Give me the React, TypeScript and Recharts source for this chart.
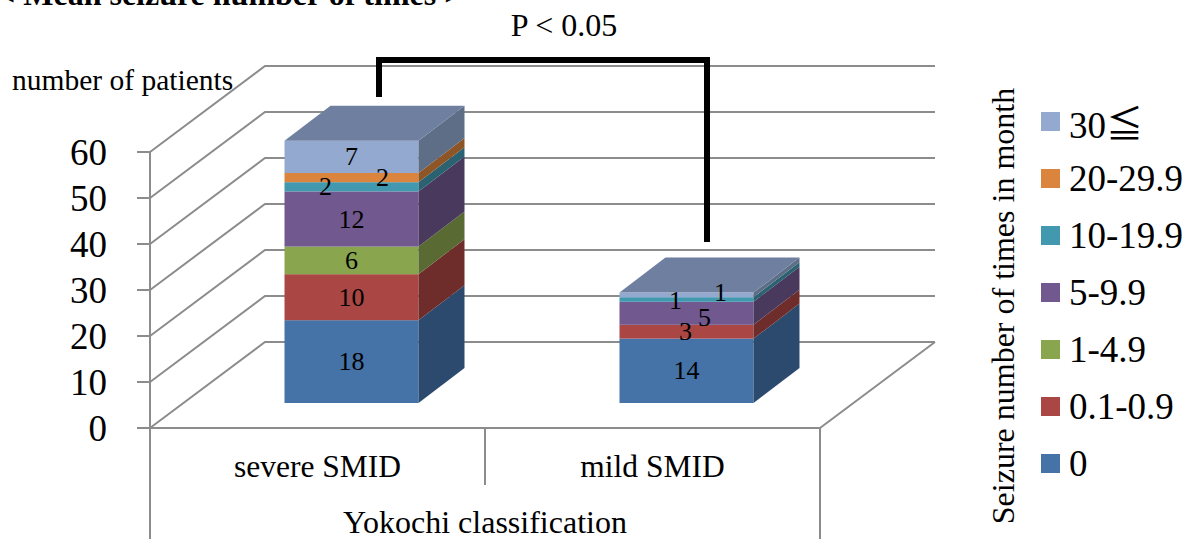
import { BarChart, Bar, XAxis, YAxis, CartesianGrid, Legend, LabelList, Label, Customized } from 'recharts';

const categories = ['severe SMID', 'mild SMID'];
const seriesNames = ['0', '0.1-0.9', '1-4.9', '5-9.9', '10-19.9', '20-29.9', '30≦'];
const seriesColors = ['#4572a7', '#aa4643', '#89a54e', '#71588f', '#4198af', '#db843d', '#93a9cf'];
const sideColors = ['#2c4a6e', '#6e2d2b', '#596b32', '#49395d', '#2a6272', '#8e5627', '#5f6e87'];
const severeValues = [18, 10, 6, 12, 2, 2, 7];
const mildValues = [14, 3, 0, 5, 1, 0, 1];
const yTicks = [0, 10, 20, 30, 40, 50, 60];

const data = categories.map((name, i) => {
  const values = i === 0 ? severeValues : mildValues;
  const row: Record<string, string | number> = { name };
  seriesNames.forEach((s, j) => { row[s] = values[j]; });
  return row;
});

const FONT = '"Liberation Serif", "Noto Sans CJK JP", serif';
const AXIS = '#8c8c8c';
// the bars stand part way back on the floor, the wall is further back
const BAR_DX = 33.5;
const BAR_DY = -25;
const SIDE_DX = 46;
const SIDE_DY = -35;
const WALL_DX = 115;
const WALL_DY = -86;
const WALL_RIGHT = 935;

// hand placed data labels, like the original, [series][category] -> [dx, dy]
const labelNudge: Record<string, [number, number][]> = {
  '0': [[0, 0], [0, 0]],
  '0.1-0.9': [[0, 0], [-1, 0]],
  '1-4.9': [[0, 0], [0, 0]],
  '5-9.9': [[0, 0], [18, 4]],
  '10-19.9': [[-26, 0], [-11, 1]],
  '20-29.9': [[31, 0], [0, 0]],
  '30≦': [[0, 0], [34, -2]],
};

function Block(props: any) {
  const { x, y, width, height, fill, seriesIndex, dataKey } = props;
  if (!height) return null;
  const l = x + BAR_DX;
  const t = y + BAR_DY;
  const r = l + width;
  const b = t + height;
  const i = seriesIndex ?? seriesNames.indexOf(dataKey);
  return (
    <g>
      <rect x={l} y={t} width={width} height={height} fill={fill} />
      <polygon
        points={`${r},${t} ${r + SIDE_DX},${t + SIDE_DY} ${r + SIDE_DX},${b + SIDE_DY} ${r},${b}`}
        fill={sideColors[i]}
      />
      {i === seriesNames.length - 1 && (
        <polygon
          points={`${l},${t} ${l + SIDE_DX},${t + SIDE_DY} ${r + SIDE_DX},${t + SIDE_DY} ${r},${t}`}
          fill="#6f7f9f"
        />
      )}
    </g>
  );
}

function BlockLabel(props: any) {
  const { x, y, width, height, value, index, series } = props;
  if (!value) return null;
  const [dx, dy] = labelNudge[series][index];
  return (
    <text
      x={x + width / 2 + BAR_DX + dx}
      y={y + height / 2 + BAR_DY + dy}
      textAnchor="middle"
      dominantBaseline="central"
      fontSize={26}
      fontFamily={FONT}
      fill="#000"
    >
      {value}
    </text>
  );
}

function GridLine(props: any) {
  const { x1, y1 } = props;
  return (
    <polyline
      points={`${x1},${y1} ${x1 + WALL_DX},${y1 + WALL_DY} ${WALL_RIGHT},${y1 + WALL_DY}`}
      fill="none"
      stroke={AXIS}
      strokeWidth={2}
    />
  );
}

function Frame() {
  return (
    <g stroke={AXIS} strokeWidth={2} fill="none">
      <line x1={150} y1={428} x2={150} y2={539} />
      <line x1={485} y1={428} x2={485} y2={485} />
      <line x1={820} y1={428} x2={820} y2={539} />
      <line x1={820} y1={428} x2={WALL_RIGHT} y2={342} />
    </g>
  );
}

function Notes() {
  return (
    <g fontFamily={FONT} fill="#000">
      <text x={-3} y={5} fontSize={32} fontWeight="bold">{'< Mean seizure number of times >'}</text>
      <text x={564} y={36} fontSize={32} textAnchor="middle">{'P < 0.05'}</text>
      <text x={12} y={90} fontSize={29.5}>number of patients</text>
      <polyline points="379,97 379,60 707,60 707,242" fill="none" stroke="#000" strokeWidth={6} />
      <text
        transform="translate(1014,306) rotate(-90)"
        fontSize={32}
        textAnchor="middle"
      >
        Seizure number of times in month
      </text>
    </g>
  );
}

function LegendBox() {
  const items = seriesNames.map((name, i) => ({ name, color: seriesColors[i] })).reverse();
  return (
    <div style={{ fontFamily: FONT, fontSize: 37, color: '#000' }}>
      {items.map(it => (
        <div key={it.name} style={{ display: 'flex', alignItems: 'center', height: 57, whiteSpace: 'nowrap' }}>
          <span style={{ width: 19, height: 19, background: it.color, marginRight: 9, flex: 'none' }} />
          <span>{it.name}</span>
        </div>
      ))}
    </div>
  );
}

export default function App() {
  return (
    <div style={{ position: 'absolute', left: 0, top: 0, width: 1195, height: 539, overflow: 'hidden', background: '#fff' }}>
      <BarChart
        width={1195}
        height={539}
        data={data}
        barSize={134}
        margin={{ top: 152, right: 375, left: 90, bottom: 0 }}
        style={{ fontFamily: FONT }}
      >
        <CartesianGrid vertical={false} horizontal={GridLine} />
        <Customized component={Frame} />
        <XAxis
          dataKey="name"
          height={111}
          axisLine={{ stroke: AXIS, strokeWidth: 2 }}
          tickLine={false}
          tickMargin={21}
          tick={{ fill: '#000', fontSize: 31.5, fontFamily: FONT }}
        >
          <Label value="Yokochi classification" position="insideBottom" offset={6} fill="#000" fontSize={32} fontFamily={FONT} />
        </XAxis>
        <YAxis
          width={60}
          domain={[0, 60]}
          ticks={yTicks}
          interval={0}
          axisLine={{ stroke: AXIS, strokeWidth: 2 }}
          tickLine={{ stroke: AXIS, strokeWidth: 2 }}
          tickSize={13}
          tickMargin={30}
          tick={{ fill: '#000', fontSize: 37, fontFamily: FONT }}
        />
        <Legend
          layout="horizontal"
          verticalAlign="middle"
          content={<LegendBox />}
          wrapperStyle={{ left: 1041, top: 93, width: 154 }}
        />
        {seriesNames.map((s, i) => (
          <Bar
            key={s}
            dataKey={s}
            stackId="a"
            fill={seriesColors[i]}
            shape={<Block seriesIndex={i} />}
            isAnimationActive={false}
          >
            <LabelList dataKey={s} content={<BlockLabel series={s} />} />
          </Bar>
        ))}
        <Customized component={Notes} />
      </BarChart>
    </div>
  );
}
